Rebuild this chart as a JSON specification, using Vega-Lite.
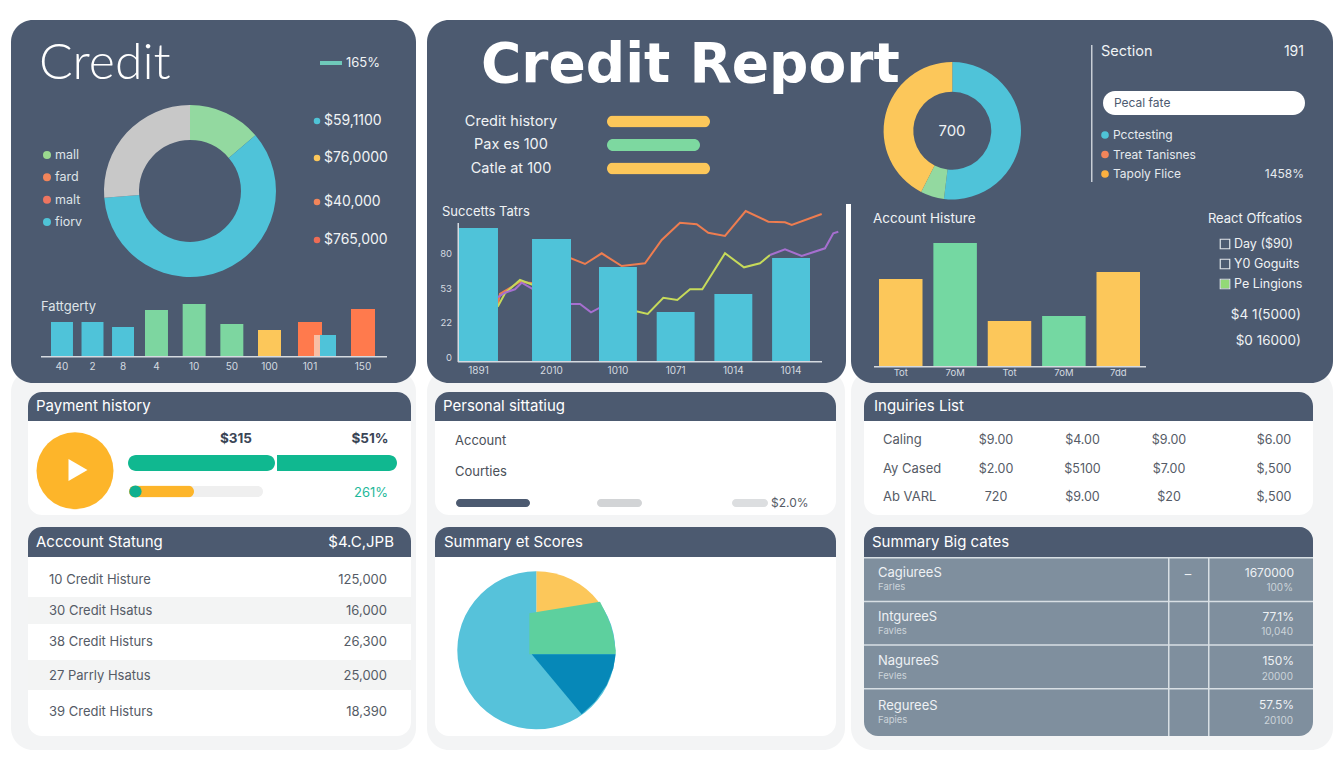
{"$schema":"https://vega.github.io/schema/vega-lite/v6.json","width":1344,"height":768,"padding":0,"autosize":{"type":"none"},"background":"#ffffff",
"config":{"view":{"stroke":null},"text":{"baseline":"middle","align":"left","font":"Inter"},"axis":{"domain":false,"ticks":false,"grid":false,"labelAngle":0,"labelFont":"Inter","labelColor":"#d5dae0","labelOverlap":false}},
"resolve":{"scale":{"x":"independent","y":"independent","color":"independent","theta":"independent"},"axis":{"x":"independent","y":"independent"},"legend":{"color":"independent"}},
"layer":[
{"data":{"values":[{"k":"a"}]},"mark":{"type":"rect","color":"#f3f4f5","cornerRadius":22},"encoding":{"x":{"field":"k","type":"nominal","axis":null,"scale":{"type":"band","padding":0,"range":[11,416]}},"y":{"field":"k","type":"nominal","axis":null,"scale":{"type":"band","padding":0,"range":[370,750]}}}},
{"data":{"values":[{"k":"a"}]},"mark":{"type":"rect","color":"#f3f4f5","cornerRadius":22},"encoding":{"x":{"field":"k","type":"nominal","axis":null,"scale":{"type":"band","padding":0,"range":[427,845]}},"y":{"field":"k","type":"nominal","axis":null,"scale":{"type":"band","padding":0,"range":[370,750]}}}},
{"data":{"values":[{"k":"a"}]},"mark":{"type":"rect","color":"#f3f4f5","cornerRadius":22},"encoding":{"x":{"field":"k","type":"nominal","axis":null,"scale":{"type":"band","padding":0,"range":[851,1333]}},"y":{"field":"k","type":"nominal","axis":null,"scale":{"type":"band","padding":0,"range":[370,750]}}}},
{"data":{"values":[{"k":"a"}]},"mark":{"type":"rect","color":"#4c5a70","cornerRadius":22},"encoding":{"x":{"field":"k","type":"nominal","axis":null,"scale":{"type":"band","padding":0,"range":[11,416]}},"y":{"field":"k","type":"nominal","axis":null,"scale":{"type":"band","padding":0,"range":[20,383]}}}},
{"data":{"values":[{"k":"a"}]},"mark":{"type":"rect","color":"#4c5a70","cornerRadiusTopLeft":22,"cornerRadiusTopRight":22},"encoding":{"x":{"field":"k","type":"nominal","axis":null,"scale":{"type":"band","padding":0,"range":[427,1333]}},"y":{"field":"k","type":"nominal","axis":null,"scale":{"type":"band","padding":0,"range":[20,204]}}}},
{"data":{"values":[{"k":"a"}]},"mark":{"type":"rect","color":"#4c5a70","cornerRadiusBottomLeft":22,"cornerRadiusBottomRight":22},"encoding":{"x":{"field":"k","type":"nominal","axis":null,"scale":{"type":"band","padding":0,"range":[427,846]}},"y":{"field":"k","type":"nominal","axis":null,"scale":{"type":"band","padding":0,"range":[200,383]}}}},
{"data":{"values":[{"k":"a"}]},"mark":{"type":"rect","color":"#4c5a70","cornerRadiusBottomLeft":22,"cornerRadiusBottomRight":22},"encoding":{"x":{"field":"k","type":"nominal","axis":null,"scale":{"type":"band","padding":0,"range":[851,1333]}},"y":{"field":"k","type":"nominal","axis":null,"scale":{"type":"band","padding":0,"range":[200,383]}}}},

{"data":{"values":[{"k":"a"}]},"mark":{"type":"rect","color":"#ffffff","cornerRadius":14},"encoding":{"x":{"field":"k","type":"nominal","axis":null,"scale":{"type":"band","padding":0,"range":[28,411]}},"y":{"field":"k","type":"nominal","axis":null,"scale":{"type":"band","padding":0,"range":[392,515]}}}},
{"data":{"values":[{"k":"a"}]},"mark":{"type":"rect","color":"#ffffff","cornerRadius":14},"encoding":{"x":{"field":"k","type":"nominal","axis":null,"scale":{"type":"band","padding":0,"range":[435,836]}},"y":{"field":"k","type":"nominal","axis":null,"scale":{"type":"band","padding":0,"range":[392,515]}}}},
{"data":{"values":[{"k":"a"}]},"mark":{"type":"rect","color":"#ffffff","cornerRadius":14},"encoding":{"x":{"field":"k","type":"nominal","axis":null,"scale":{"type":"band","padding":0,"range":[864,1313]}},"y":{"field":"k","type":"nominal","axis":null,"scale":{"type":"band","padding":0,"range":[392,515]}}}},
{"data":{"values":[{"k":"a"}]},"mark":{"type":"rect","color":"#ffffff","cornerRadius":14},"encoding":{"x":{"field":"k","type":"nominal","axis":null,"scale":{"type":"band","padding":0,"range":[28,411]}},"y":{"field":"k","type":"nominal","axis":null,"scale":{"type":"band","padding":0,"range":[527,736]}}}},
{"data":{"values":[{"k":"a"}]},"mark":{"type":"rect","color":"#ffffff","cornerRadius":14},"encoding":{"x":{"field":"k","type":"nominal","axis":null,"scale":{"type":"band","padding":0,"range":[435,836]}},"y":{"field":"k","type":"nominal","axis":null,"scale":{"type":"band","padding":0,"range":[527,736]}}}},
{"data":{"values":[{"k":"a"}]},"mark":{"type":"rect","color":"#7f8f9e","cornerRadius":14},"encoding":{"x":{"field":"k","type":"nominal","axis":null,"scale":{"type":"band","padding":0,"range":[864,1313]}},"y":{"field":"k","type":"nominal","axis":null,"scale":{"type":"band","padding":0,"range":[527,736]}}}},

{"data":{"values":[{"k":"a"}]},"mark":{"type":"rect","color":"#f3f4f4"},"encoding":{"x":{"field":"k","type":"nominal","axis":null,"scale":{"type":"band","padding":0,"range":[28,411]}},"y":{"field":"k","type":"nominal","axis":null,"scale":{"type":"band","padding":0,"range":[597,624]}}}},
{"data":{"values":[{"k":"a"}]},"mark":{"type":"rect","color":"#f3f4f4"},"encoding":{"x":{"field":"k","type":"nominal","axis":null,"scale":{"type":"band","padding":0,"range":[28,411]}},"y":{"field":"k","type":"nominal","axis":null,"scale":{"type":"band","padding":0,"range":[660,690]}}}},

{"data":{"values":[{"k":"a"}]},"mark":{"type":"rect","color":"#4c5a70","cornerRadiusTopLeft":14,"cornerRadiusTopRight":14},"encoding":{"x":{"field":"k","type":"nominal","axis":null,"scale":{"type":"band","padding":0,"range":[28,411]}},"y":{"field":"k","type":"nominal","axis":null,"scale":{"type":"band","padding":0,"range":[392,421]}}}},
{"data":{"values":[{"k":"a"}]},"mark":{"type":"rect","color":"#4c5a70","cornerRadiusTopLeft":14,"cornerRadiusTopRight":14},"encoding":{"x":{"field":"k","type":"nominal","axis":null,"scale":{"type":"band","padding":0,"range":[435,836]}},"y":{"field":"k","type":"nominal","axis":null,"scale":{"type":"band","padding":0,"range":[392,421]}}}},
{"data":{"values":[{"k":"a"}]},"mark":{"type":"rect","color":"#4c5a70","cornerRadiusTopLeft":14,"cornerRadiusTopRight":14},"encoding":{"x":{"field":"k","type":"nominal","axis":null,"scale":{"type":"band","padding":0,"range":[864,1313]}},"y":{"field":"k","type":"nominal","axis":null,"scale":{"type":"band","padding":0,"range":[392,421]}}}},
{"data":{"values":[{"k":"a"}]},"mark":{"type":"rect","color":"#4c5a70","cornerRadiusTopLeft":14,"cornerRadiusTopRight":14},"encoding":{"x":{"field":"k","type":"nominal","axis":null,"scale":{"type":"band","padding":0,"range":[28,411]}},"y":{"field":"k","type":"nominal","axis":null,"scale":{"type":"band","padding":0,"range":[527,557]}}}},
{"data":{"values":[{"k":"a"}]},"mark":{"type":"rect","color":"#4c5a70","cornerRadiusTopLeft":14,"cornerRadiusTopRight":14},"encoding":{"x":{"field":"k","type":"nominal","axis":null,"scale":{"type":"band","padding":0,"range":[435,836]}},"y":{"field":"k","type":"nominal","axis":null,"scale":{"type":"band","padding":0,"range":[527,557]}}}},
{"data":{"values":[{"k":"a"}]},"mark":{"type":"rect","color":"#4c5a70","cornerRadiusTopLeft":14,"cornerRadiusTopRight":14},"encoding":{"x":{"field":"k","type":"nominal","axis":null,"scale":{"type":"band","padding":0,"range":[864,1313]}},"y":{"field":"k","type":"nominal","axis":null,"scale":{"type":"band","padding":0,"range":[527,557]}}}},

{"data":{"values":[{"k":"a","r":1},{"k":"a","r":2},{"k":"a","r":3},{"k":"a","r":4}]},"mark":{"type":"rect","color":"#d8dfe4"},"encoding":{"x":{"field":"k","type":"nominal","axis":null,"scale":{"type":"band","padding":0,"range":[864,1313]}},"y":{"field":"r","type":"ordinal","axis":null,"scale":{"type":"band","paddingInner":0.966,"paddingOuter":0,"range":[557,689.5]}}}},
{"data":{"values":[{"k":"a","r":1},{"k":"b","r":1}]},"mark":{"type":"rect","color":"#d8dfe4"},"encoding":{"x":{"field":"k","type":"nominal","axis":null,"scale":{"type":"band","paddingInner":0.9625,"paddingOuter":0,"range":[1168,1209.5]}},"y":{"field":"r","type":"ordinal","axis":null,"scale":{"type":"band","padding":0,"range":[557,736]}}}},

{"data":{"values":[{"k":"a"}]},"mark":{"type":"rect","color":"#6fc9ba"},"encoding":{"x":{"field":"k","type":"nominal","axis":null,"scale":{"type":"band","padding":0,"range":[320,342]}},"y":{"field":"k","type":"nominal","axis":null,"scale":{"type":"band","padding":0,"range":[61,65]}}}},
{"data":{"values":[{"k":"a"}]},"mark":{"type":"rect","color":"#d5dae0"},"encoding":{"x":{"field":"k","type":"nominal","axis":null,"scale":{"type":"band","padding":0,"range":[41,387]}},"y":{"field":"k","type":"nominal","axis":null,"scale":{"type":"band","padding":0,"range":[356,357.5]}}}},
{"data":{"values":[{"k":"a"}]},"mark":{"type":"rect","color":"#d5dae0"},"encoding":{"x":{"field":"k","type":"nominal","axis":null,"scale":{"type":"band","padding":0,"range":[458,822]}},"y":{"field":"k","type":"nominal","axis":null,"scale":{"type":"band","padding":0,"range":[361,362.5]}}}},
{"data":{"values":[{"k":"a"}]},"mark":{"type":"rect","color":"#d5dae0"},"encoding":{"x":{"field":"k","type":"nominal","axis":null,"scale":{"type":"band","padding":0,"range":[457.5,459]}},"y":{"field":"k","type":"nominal","axis":null,"scale":{"type":"band","padding":0,"range":[223,362]}}}},
{"data":{"values":[{"k":"a"}]},"mark":{"type":"rect","color":"#d5dae0"},"encoding":{"x":{"field":"k","type":"nominal","axis":null,"scale":{"type":"band","padding":0,"range":[874,1146]}},"y":{"field":"k","type":"nominal","axis":null,"scale":{"type":"band","padding":0,"range":[366,367.5]}}}},
{"data":{"values":[{"k":"a"}]},"mark":{"type":"rect","color":"#c8ced6"},"encoding":{"x":{"field":"k","type":"nominal","axis":null,"scale":{"type":"band","padding":0,"range":[1091,1092.5]}},"y":{"field":"k","type":"nominal","axis":null,"scale":{"type":"band","padding":0,"range":[45,182]}}}},
{"data":{"values":[{"k":"a"}]},"mark":{"type":"rect","color":"#ffffff","cornerRadius":12},"encoding":{"x":{"field":"k","type":"nominal","axis":null,"scale":{"type":"band","padding":0,"range":[1103,1305]}},"y":{"field":"k","type":"nominal","axis":null,"scale":{"type":"band","padding":0,"range":[91,115]}}}},

{"data":{"values":[{"c":1,"s":"a","v":49.5},{"c":1,"s":"b","v":216},{"c":1,"s":"c","v":94.5}]},"mark":{"type":"arc","radius":86,"radius2":51},"encoding":{"theta":{"field":"v","type":"quantitative","scale":{"domain":[0,360],"range":[0,6.2832]}},"order":{"field":"s"},"color":{"field":"s","type":"nominal","legend":null,"scale":{"domain":["a","b","c"],"range":["#93d9a0","#4fc3d9","#c8c8c8"]}},"x":{"field":"c","type":"ordinal","axis":null,"scale":{"type":"point","padding":0,"range":[190,190]}},"y":{"field":"c","type":"ordinal","axis":null,"scale":{"type":"point","padding":0,"range":[191,191]}}}},
{"data":{"values":[{"c":1,"s":"a","v":187},{"c":1,"s":"b","v":20},{"c":1,"s":"c","v":153}]},"mark":{"type":"arc","radius":68.7,"radius2":39},"encoding":{"theta":{"field":"v","type":"quantitative","scale":{"domain":[0,360],"range":[0,6.2832]}},"order":{"field":"s"},"color":{"field":"s","type":"nominal","legend":null,"scale":{"domain":["a","b","c"],"range":["#4fc3d9","#93d9a0","#fcc75a"]}},"x":{"field":"c","type":"ordinal","axis":null,"scale":{"type":"point","padding":0,"range":[952.3,952.3]}},"y":{"field":"c","type":"ordinal","axis":null,"scale":{"type":"point","padding":0,"range":[130.7,130.7]}}}},

{"data":{"values":[{"c":1,"s":"a","v":52},{"c":1,"s":"b","v":308}]},"mark":{"type":"arc","radius":79,"radius2":0},"encoding":{"theta":{"field":"v","type":"quantitative","scale":{"domain":[0,360],"range":[0,6.2832]}},"order":{"field":"s"},"color":{"field":"s","type":"nominal","legend":null,"scale":{"domain":["a","b"],"range":["#fcc75a","#56c2da"]}},"x":{"field":"c","type":"ordinal","axis":null,"scale":{"type":"point","padding":0,"range":[536.3,536.3]}},"y":{"field":"c","type":"ordinal","axis":null,"scale":{"type":"point","padding":0,"range":[650.3,650.3]}}}},
{"data":{"values":[{"t":4.3,"v":76.7,"b":35.7},{"t":75,"v":88.3,"b":35.7},{"t":80,"v":78.3,"b":35.7},{"t":85,"v":66.7,"b":35.7},{"t":88.3,"v":55,"b":35.7},{"t":90.7,"v":39.7,"b":35.7}]},"mark":{"type":"area","color":"#5dd09e"},"encoding":{"x":{"field":"t","type":"quantitative","axis":null,"scale":{"domain":[0,100],"range":[525,625]}},"y":{"field":"v","type":"quantitative","axis":null,"scale":{"domain":[-50,100],"range":[740,590]}},"y2":{"field":"b"}}},
{"data":{"values":[{"t":6.7,"v":35.7,"b":35.7},{"t":56.7,"v":35.7,"b":-24.3},{"t":70,"v":35.7,"b":-11.7},{"t":81.7,"v":35.7,"b":5},{"t":88.3,"v":35.7,"b":21.7},{"t":90.7,"v":35.7,"b":35.7}]},"mark":{"type":"area","color":"#0688b8"},"encoding":{"x":{"field":"t","type":"quantitative","axis":null,"scale":{"domain":[0,100],"range":[525,625]}},"y":{"field":"v","type":"quantitative","axis":null,"scale":{"domain":[-50,100],"range":[740,590]}},"y2":{"field":"b"}}},

{"data":{"values":[{"k":"40","v":34,"s":"a"},{"k":"2","v":34,"s":"a"},{"k":"8","v":29,"s":"a"}]},"mark":{"type":"bar","color":"#4fc3d9"},"encoding":{"x":{"field":"k","type":"nominal","sort":null,"scale":{"type":"band","paddingInner":0.28,"paddingOuter":0,"range":[51,134]},"axis":{"orient":"bottom","offset":-411.5,"title":null,"labelFontSize":10,"labelPadding":5,"zindex":1}},"y":{"field":"v","type":"quantitative","axis":null,"scale":{"domain":[0,60],"range":[356,296]}}}},
{"data":{"values":[{"k":"4","v":46},{"k":"10","v":52},{"k":"50","v":32},{"k":"100","v":26}]},"mark":{"type":"bar"},"encoding":{"x":{"field":"k","type":"nominal","sort":null,"scale":{"type":"band","paddingInner":0.39,"paddingOuter":0,"range":[145,281]},"axis":{"orient":"bottom","offset":-411.5,"title":null,"labelFontSize":10,"labelPadding":5,"zindex":1}},"y":{"field":"v","type":"quantitative","axis":null,"scale":{"domain":[0,60],"range":[356,296]}},"color":{"field":"k","type":"nominal","legend":null,"scale":{"domain":["4","10","50","100"],"range":["#7dd6a0","#7dd6a0","#7dd6a0","#fcc75a"]}}}},
{"data":{"values":[{"k":"101","v":34},{"k":"150","v":47}]},"mark":{"type":"bar","color":"#ff7a4d"},"encoding":{"x":{"field":"k","type":"nominal","sort":null,"scale":{"type":"band","paddingInner":0.547,"paddingOuter":0,"range":[298,375]},"axis":{"orient":"bottom","offset":-411.5,"title":null,"labelFontSize":10,"labelPadding":5,"zindex":1}},"y":{"field":"v","type":"quantitative","axis":null,"scale":{"domain":[0,60],"range":[356,296]}}}},
{"data":{"values":[{"k":"b","v":21}]},"mark":{"type":"bar","color":"#4fc3d9"},"encoding":{"x":{"field":"k","type":"nominal","axis":null,"scale":{"type":"band","padding":0,"range":[314,336]}},"y":{"field":"v","type":"quantitative","axis":null,"scale":{"domain":[0,60],"range":[356,296]}}}},
{"data":{"values":[{"k":"o","v":21}]},"mark":{"type":"bar","color":"#f8bfa5"},"encoding":{"x":{"field":"k","type":"nominal","axis":null,"scale":{"type":"band","padding":0,"range":[314,320]}},"y":{"field":"v","type":"quantitative","axis":null,"scale":{"domain":[0,60],"range":[356,296]}}}},

{"data":{"values":[
{"s":"o","t":39.7,"v":56},{"s":"o","t":42,"v":67},{"s":"o","t":62,"v":79.3},{"s":"o","t":75.3,"v":77.7},{"s":"o","t":113,"v":102.7},{"s":"o","t":127,"v":97},{"s":"o","t":143.7,"v":107.7},{"s":"o","t":163.7,"v":95},{"s":"o","t":187,"v":97.7},{"s":"o","t":203.7,"v":121},{"s":"o","t":222,"v":138.3},{"s":"o","t":238.7,"v":136.7},{"s":"o","t":250.3,"v":128.3},{"s":"o","t":267,"v":125},{"s":"o","t":287.7,"v":150},{"s":"o","t":310.3,"v":139.3},{"s":"o","t":327,"v":138.7},{"s":"o","t":333.7,"v":136},{"s":"o","t":363.7,"v":147},
{"s":"y1","t":39.7,"v":54.3},{"s":"y1","t":47,"v":67.7},{"s":"y1","t":62,"v":81},{"s":"y1","t":75.3,"v":76},{"s":"y1","t":80.3,"v":74},
{"s":"y2","t":175.3,"v":50.3},{"s":"y2","t":180.3,"v":49.3},{"s":"y2","t":189.7,"v":47},{"s":"y2","t":205.3,"v":63.3},{"s":"y2","t":219.3,"v":61},{"s":"y2","t":232,"v":71.7},{"s":"y2","t":244.3,"v":71.7},{"s":"y2","t":267,"v":107.7},{"s":"y2","t":286,"v":93.7},{"s":"y2","t":302,"v":97.7},{"s":"y2","t":312,"v":106},
{"s":"p1","t":39.7,"v":63.7},{"s":"p1","t":47,"v":68.3},{"s":"p1","t":57,"v":71.7},{"s":"p1","t":63.7,"v":78.3},{"s":"p1","t":75.3,"v":71.7},{"s":"p1","t":113,"v":57},{"s":"p1","t":122,"v":57},{"s":"p1","t":133,"v":48.7},{"s":"p1","t":143.7,"v":54.3},{"s":"p1","t":150,"v":54},
{"s":"p2","t":312,"v":106},{"s":"p2","t":327,"v":111.7},{"s":"p2","t":343.7,"v":105},{"s":"p2","t":367,"v":112.7},{"s":"p2","t":375.3,"v":127.7},{"s":"p2","t":380.3,"v":129.3}
]},"mark":{"type":"line","strokeWidth":2},"encoding":{"x":{"field":"t","type":"quantitative","axis":null,"scale":{"domain":[0,400],"range":[458,858]}},"y":{"field":"v","type":"quantitative","axis":null,"scale":{"domain":[0,160],"range":[361,201]}},"color":{"field":"s","type":"nominal","legend":null,"scale":{"domain":["o","y1","y2","p1","p2"],"range":["#ee7d50","#c6da5a","#c6da5a","#a66fd0","#a66fd0"]}}}},

{"data":{"values":[{"k":"1891","v":133},{"k":"2010","v":122}]},"mark":{"type":"bar","color":"#4fc3d9"},"encoding":{"x":{"field":"k","type":"nominal","sort":null,"scale":{"type":"band","paddingInner":0.466,"paddingOuter":0,"range":[459,571]},"axis":{"orient":"bottom","offset":-406.5,"title":null,"labelFontSize":10,"labelPadding":4,"zindex":1}},"y":{"field":"v","type":"quantitative","axis":null,"scale":{"domain":[0,160],"range":[361,201]}}}},
{"data":{"values":[{"k":"1010","v":94},{"k":"1071","v":49},{"k":"1014","v":67},{"k":"1014 ","v":103}]},"mark":{"type":"bar","color":"#4fc3d9"},"encoding":{"x":{"field":"k","type":"nominal","sort":null,"scale":{"type":"band","paddingInner":0.343,"paddingOuter":0,"range":[599,810]},"axis":{"orient":"bottom","offset":-406.5,"title":null,"labelFontSize":10,"labelPadding":4,"zindex":1}},"y":{"field":"v","type":"quantitative","axis":null,"scale":{"domain":[0,160],"range":[361,201]}}}},
{"data":{"values":[{"k":"Tot","v":87},{"k":"7oM","v":123},{"k":"Tot ","v":45},{"k":"7oM ","v":50},{"k":"7dd","v":94}]},"mark":{"type":"bar"},"encoding":{"x":{"field":"k","type":"nominal","sort":null,"scale":{"type":"band","paddingInner":0.2,"paddingOuter":0,"range":[879,1140]},"axis":{"orient":"bottom","offset":-401.5,"title":null,"labelFontSize":9.5,"labelPadding":1,"zindex":1}},"y":{"field":"v","type":"quantitative","axis":null,"scale":{"domain":[0,130],"range":[366,236]}},"color":{"field":"k","type":"nominal","legend":null,"scale":{"domain":["Tot","7oM","Tot ","7oM ","7dd"],"range":["#fcc75a","#74d8a2","#fcc75a","#74d8a2","#fcc75a"]}}}},

{"data":{"values":[{"r":"a","v":103},{"r":"b","v":93},{"r":"c","v":103}]},"mark":{"type":"bar","size":12,"cornerRadius":6},"encoding":{"x":{"field":"v","type":"quantitative","axis":null,"scale":{"domain":[0,103],"range":[607,710]}},"y":{"field":"r","type":"nominal","axis":null,"scale":{"type":"point","padding":0,"range":[121.5,168.5]}},"color":{"field":"r","type":"nominal","legend":null,"scale":{"domain":["a","b","c"],"range":["#fcc75a","#7dd8a0","#fcc75a"]}}}},

{"data":{"values":[{"r":"a","v":147}]},"mark":{"type":"bar","size":16,"cornerRadius":8,"color":"#10b890"},"encoding":{"x":{"field":"v","type":"quantitative","axis":null,"scale":{"domain":[0,147],"range":[128,275]}},"y":{"field":"r","type":"nominal","axis":null,"scale":{"type":"point","padding":0,"range":[463,463]}}}},
{"data":{"values":[{"r":"a","v":120}]},"mark":{"type":"bar","size":16,"cornerRadiusEnd":8,"color":"#10b890"},"encoding":{"x":{"field":"v","type":"quantitative","axis":null,"scale":{"domain":[0,120],"range":[277,397]}},"y":{"field":"r","type":"nominal","axis":null,"scale":{"type":"point","padding":0,"range":[463,463]}}}},
{"data":{"values":[{"r":"a","v":134}]},"mark":{"type":"bar","size":11,"cornerRadius":5.5,"color":"#efefef"},"encoding":{"x":{"field":"v","type":"quantitative","axis":null,"scale":{"domain":[0,134],"range":[129,263]}},"y":{"field":"r","type":"nominal","axis":null,"scale":{"type":"point","padding":0,"range":[491.5,491.5]}}}},
{"data":{"values":[{"r":"a","v":65}]},"mark":{"type":"bar","size":12,"cornerRadius":6,"color":"#fdb52a"},"encoding":{"x":{"field":"v","type":"quantitative","axis":null,"scale":{"domain":[0,134],"range":[129,263]}},"y":{"field":"r","type":"nominal","axis":null,"scale":{"type":"point","padding":0,"range":[491.5,491.5]}}}},
{"data":{"values":[{"r":"a","v":74}]},"mark":{"type":"bar","size":8,"cornerRadius":4,"color":"#4c5a70"},"encoding":{"x":{"field":"v","type":"quantitative","axis":null,"scale":{"domain":[0,74],"range":[456,530]}},"y":{"field":"r","type":"nominal","axis":null,"scale":{"type":"point","padding":0,"range":[503,503]}}}},
{"data":{"values":[{"r":"a","v":45}]},"mark":{"type":"bar","size":8,"cornerRadius":4,"color":"#d2d4d6"},"encoding":{"x":{"field":"v","type":"quantitative","axis":null,"scale":{"domain":[0,45],"range":[597,642]}},"y":{"field":"r","type":"nominal","axis":null,"scale":{"type":"point","padding":0,"range":[503,503]}}}},
{"data":{"values":[{"r":"a","v":36}]},"mark":{"type":"bar","size":8,"cornerRadius":4,"color":"#dcdee0"},"encoding":{"x":{"field":"v","type":"quantitative","axis":null,"scale":{"domain":[0,36],"range":[732,768]}},"y":{"field":"r","type":"nominal","axis":null,"scale":{"type":"point","padding":0,"range":[503,503]}}}},

{"data":{"values":[{"c":1,"r":1}]},"mark":{"type":"point","filled":true,"opacity":1,"size":5929,"color":"#fdb52a"},"encoding":{"x":{"field":"c","type":"ordinal","axis":null,"scale":{"type":"point","padding":0,"range":[75,75]}},"y":{"field":"r","type":"ordinal","axis":null,"scale":{"type":"point","padding":0,"range":[470.7,470.7]}}}},
{"data":{"values":[{"c":1,"r":1}]},"mark":{"type":"point","filled":true,"opacity":1,"shape":"triangle-right","size":480,"color":"#ffffff"},"encoding":{"x":{"field":"c","type":"ordinal","axis":null,"scale":{"type":"point","padding":0,"range":[78,78]}},"y":{"field":"r","type":"ordinal","axis":null,"scale":{"type":"point","padding":0,"range":[470,470]}}}},
{"data":{"values":[{"c":1,"r":1}]},"mark":{"type":"point","filled":true,"opacity":1,"size":150,"color":"#10b08f"},"encoding":{"x":{"field":"c","type":"ordinal","axis":null,"scale":{"type":"point","padding":0,"range":[135.5,135.5]}},"y":{"field":"r","type":"ordinal","axis":null,"scale":{"type":"point","padding":0,"range":[491.5,491.5]}}}},

{"data":{"values":[{"c":1,"r":1},{"c":1,"r":2},{"c":1,"r":3},{"c":1,"r":4}]},"mark":{"type":"point","filled":true,"opacity":1,"size":64},"encoding":{"x":{"field":"c","type":"ordinal","axis":null,"scale":{"type":"point","padding":0,"range":[47,47]}},"y":{"field":"r","type":"ordinal","axis":null,"scale":{"type":"point","padding":0,"range":[155,222]}},"color":{"field":"r","type":"nominal","legend":null,"scale":{"domain":[1,2,3,4],"range":["#9bd98f","#f2855a","#ee7560","#4fc3d6"]}}}},
{"data":{"values":[{"c":1,"r":1},{"c":1,"r":2}]},"mark":{"type":"point","filled":true,"opacity":1,"size":42},"encoding":{"x":{"field":"c","type":"ordinal","axis":null,"scale":{"type":"point","padding":0,"range":[317,317]}},"y":{"field":"r","type":"ordinal","axis":null,"scale":{"type":"point","padding":0,"range":[121,158]}},"color":{"field":"r","type":"nominal","legend":null,"scale":{"domain":[1,2],"range":["#4fc3d6","#fcc75a"]}}}},
{"data":{"values":[{"c":1,"r":1},{"c":1,"r":2}]},"mark":{"type":"point","filled":true,"opacity":1,"size":42},"encoding":{"x":{"field":"c","type":"ordinal","axis":null,"scale":{"type":"point","padding":0,"range":[317,317]}},"y":{"field":"r","type":"ordinal","axis":null,"scale":{"type":"point","padding":0,"range":[202,240]}},"color":{"field":"r","type":"nominal","legend":null,"scale":{"domain":[1,2],"range":["#f2855a","#ee6c55"]}}}},
{"data":{"values":[{"c":1,"r":1},{"c":1,"r":2},{"c":1,"r":3}]},"mark":{"type":"point","filled":true,"opacity":1,"size":58},"encoding":{"x":{"field":"c","type":"ordinal","axis":null,"scale":{"type":"point","padding":0,"range":[1105,1105]}},"y":{"field":"r","type":"ordinal","axis":null,"scale":{"type":"point","padding":0,"range":[135,174]}},"color":{"field":"r","type":"nominal","legend":null,"scale":{"domain":[1,2,3],"range":["#4fc3d6","#f2855a","#fbb040"]}}}},
{"data":{"values":[{"c":1,"r":1},{"c":1,"r":2},{"c":1,"r":3}]},"mark":{"type":"point","filled":false,"opacity":1,"shape":"square","size":90,"strokeWidth":1.2,"color":"#dfe4e8"},"encoding":{"x":{"field":"c","type":"ordinal","axis":null,"scale":{"type":"point","padding":0,"range":[1225,1225]}},"y":{"field":"r","type":"ordinal","axis":null,"scale":{"type":"point","padding":0,"range":[244,284]}}}},
{"data":{"values":[{"c":1,"r":1}]},"mark":{"type":"point","filled":true,"opacity":1,"shape":"square","size":70,"color":"#93d977"},"encoding":{"x":{"field":"c","type":"ordinal","axis":null,"scale":{"type":"point","padding":0,"range":[1225,1225]}},"y":{"field":"r","type":"ordinal","axis":null,"scale":{"type":"point","padding":0,"range":[284,284]}}}},

{"data":{"values":[{"c":1,"r":1,"t":"Credit"}]},"mark":{"type":"text","font":"Lato","fontWeight":300,"fontSize":50,"color":"#ffffff"},"encoding":{"text":{"field":"t"},"x":{"field":"c","type":"ordinal","axis":null,"scale":{"type":"point","padding":0,"range":[39,39]}},"y":{"field":"r","type":"ordinal","axis":null,"scale":{"type":"point","padding":0,"range":[64,64]}}}},
{"data":{"values":[{"c":1,"r":1,"t":"Credit Report"}]},"mark":{"type":"text","font":"DejaVu Sans","fontWeight":"bold","fontSize":55,"color":"#ffffff"},"encoding":{"text":{"field":"t"},"x":{"field":"c","type":"ordinal","axis":null,"scale":{"type":"point","padding":0,"range":[481,481]}},"y":{"field":"r","type":"ordinal","axis":null,"scale":{"type":"point","padding":0,"range":[65,65]}}}},
{"data":{"values":[{"c":1,"r":1,"t":"165%"}]},"mark":{"type":"text","fontSize":13,"color":"#f0f3f5"},"encoding":{"text":{"field":"t"},"x":{"field":"c","type":"ordinal","axis":null,"scale":{"type":"point","padding":0,"range":[346,346]}},"y":{"field":"r","type":"ordinal","axis":null,"scale":{"type":"point","padding":0,"range":[63,63]}}}},
{"data":{"values":[{"c":1,"r":1,"t":"mall"},{"c":1,"r":2,"t":"fard"},{"c":1,"r":3,"t":"malt"},{"c":1,"r":4,"t":"fiorv"}]},"mark":{"type":"text","fontSize":12.5,"color":"#dfe4e8"},"encoding":{"text":{"field":"t"},"x":{"field":"c","type":"ordinal","axis":null,"scale":{"type":"point","padding":0,"range":[55,55]}},"y":{"field":"r","type":"ordinal","axis":null,"scale":{"type":"point","padding":0,"range":[155,222]}}}},
{"data":{"values":[{"c":1,"r":1,"t":"$59,1100"},{"c":1,"r":2,"t":"$76,0000"}]},"mark":{"type":"text","fontSize":14,"color":"#f0f3f5"},"encoding":{"text":{"field":"t"},"x":{"field":"c","type":"ordinal","axis":null,"scale":{"type":"point","padding":0,"range":[324,324]}},"y":{"field":"r","type":"ordinal","axis":null,"scale":{"type":"point","padding":0,"range":[121,158]}}}},
{"data":{"values":[{"c":1,"r":1,"t":"$40,000"},{"c":1,"r":2,"t":"$765,000"}]},"mark":{"type":"text","fontSize":14,"color":"#f0f3f5"},"encoding":{"text":{"field":"t"},"x":{"field":"c","type":"ordinal","axis":null,"scale":{"type":"point","padding":0,"range":[324,324]}},"y":{"field":"r","type":"ordinal","axis":null,"scale":{"type":"point","padding":0,"range":[202,240]}}}},
{"data":{"values":[{"c":1,"r":1,"t":"Fattgerty"}]},"mark":{"type":"text","fontSize":13,"color":"#dfe4e8"},"encoding":{"text":{"field":"t"},"x":{"field":"c","type":"ordinal","axis":null,"scale":{"type":"point","padding":0,"range":[41,41]}},"y":{"field":"r","type":"ordinal","axis":null,"scale":{"type":"point","padding":0,"range":[307,307]}}}},

{"data":{"values":[{"c":1,"r":1,"t":"Credit history"},{"c":1,"r":2,"t":"Pax es 100"},{"c":1,"r":3,"t":"Catle at 100"}]},"mark":{"type":"text","fontSize":14.5,"align":"center","color":"#f0f3f5"},"encoding":{"text":{"field":"t"},"x":{"field":"c","type":"ordinal","axis":null,"scale":{"type":"point","padding":0,"range":[511,511]}},"y":{"field":"r","type":"ordinal","axis":null,"scale":{"type":"point","padding":0,"range":[121.5,168.5]}}}},
{"data":{"values":[{"c":1,"r":1,"t":"700"}]},"mark":{"type":"text","fontSize":15,"align":"center","color":"#f0f3f5"},"encoding":{"text":{"field":"t"},"x":{"field":"c","type":"ordinal","axis":null,"scale":{"type":"point","padding":0,"range":[952,952]}},"y":{"field":"r","type":"ordinal","axis":null,"scale":{"type":"point","padding":0,"range":[131,131]}}}},
{"data":{"values":[{"c":1,"r":1,"t":"Section"}]},"mark":{"type":"text","fontSize":14.5,"color":"#f0f3f5"},"encoding":{"text":{"field":"t"},"x":{"field":"c","type":"ordinal","axis":null,"scale":{"type":"point","padding":0,"range":[1101,1101]}},"y":{"field":"r","type":"ordinal","axis":null,"scale":{"type":"point","padding":0,"range":[52,52]}}}},
{"data":{"values":[{"c":1,"r":1,"t":"191"}]},"mark":{"type":"text","fontSize":14,"align":"right","color":"#f0f3f5"},"encoding":{"text":{"field":"t"},"x":{"field":"c","type":"ordinal","axis":null,"scale":{"type":"point","padding":0,"range":[1304,1304]}},"y":{"field":"r","type":"ordinal","axis":null,"scale":{"type":"point","padding":0,"range":[52,52]}}}},
{"data":{"values":[{"c":1,"r":1,"t":"Pecal fate"}]},"mark":{"type":"text","fontSize":12,"color":"#4c5a70"},"encoding":{"text":{"field":"t"},"x":{"field":"c","type":"ordinal","axis":null,"scale":{"type":"point","padding":0,"range":[1114,1114]}},"y":{"field":"r","type":"ordinal","axis":null,"scale":{"type":"point","padding":0,"range":[103,103]}}}},
{"data":{"values":[{"c":1,"r":1,"t":"Pcctesting"},{"c":1,"r":2,"t":"Treat Tanisnes"},{"c":1,"r":3,"t":"Tapoly Flice"}]},"mark":{"type":"text","fontSize":12,"color":"#e6eaee"},"encoding":{"text":{"field":"t"},"x":{"field":"c","type":"ordinal","axis":null,"scale":{"type":"point","padding":0,"range":[1113,1113]}},"y":{"field":"r","type":"ordinal","axis":null,"scale":{"type":"point","padding":0,"range":[135,174]}}}},
{"data":{"values":[{"c":1,"r":1,"t":"1458%"}]},"mark":{"type":"text","fontSize":12,"align":"right","color":"#e6eaee"},"encoding":{"text":{"field":"t"},"x":{"field":"c","type":"ordinal","axis":null,"scale":{"type":"point","padding":0,"range":[1304,1304]}},"y":{"field":"r","type":"ordinal","axis":null,"scale":{"type":"point","padding":0,"range":[174,174]}}}},

{"data":{"values":[{"c":1,"r":1,"t":"Succetts Tatrs"}]},"mark":{"type":"text","fontSize":13,"color":"#f0f3f5"},"encoding":{"text":{"field":"t"},"x":{"field":"c","type":"ordinal","axis":null,"scale":{"type":"point","padding":0,"range":[442,442]}},"y":{"field":"r","type":"ordinal","axis":null,"scale":{"type":"point","padding":0,"range":[212,212]}}}},
{"data":{"values":[{"c":1,"r":1,"t":"80"},{"c":1,"r":2,"t":"53"},{"c":1,"r":3,"t":"22"},{"c":1,"r":4,"t":"0"}]},"mark":{"type":"text","fontSize":9.5,"align":"right","color":"#d5dae0"},"encoding":{"text":{"field":"t"},"x":{"field":"c","type":"ordinal","axis":null,"scale":{"type":"point","padding":0,"range":[452,452]}},"y":{"field":"r","type":"ordinal","axis":null,"scale":{"type":"point","padding":0,"range":[254,358]}}}},
{"data":{"values":[{"c":1,"r":1,"t":"Account Histure"}]},"mark":{"type":"text","fontSize":13.5,"color":"#f0f3f5"},"encoding":{"text":{"field":"t"},"x":{"field":"c","type":"ordinal","axis":null,"scale":{"type":"point","padding":0,"range":[873,873]}},"y":{"field":"r","type":"ordinal","axis":null,"scale":{"type":"point","padding":0,"range":[219,219]}}}},
{"data":{"values":[{"c":1,"r":1,"t":"React Offcatios"}]},"mark":{"type":"text","fontSize":13,"align":"right","color":"#f0f3f5"},"encoding":{"text":{"field":"t"},"x":{"field":"c","type":"ordinal","axis":null,"scale":{"type":"point","padding":0,"range":[1302,1302]}},"y":{"field":"r","type":"ordinal","axis":null,"scale":{"type":"point","padding":0,"range":[219,219]}}}},
{"data":{"values":[{"c":1,"r":1,"t":"Day ($90)"},{"c":1,"r":2,"t":"Y0 Goguits"},{"c":1,"r":3,"t":"Pe Lingions"}]},"mark":{"type":"text","fontSize":12.5,"color":"#f0f3f5"},"encoding":{"text":{"field":"t"},"x":{"field":"c","type":"ordinal","axis":null,"scale":{"type":"point","padding":0,"range":[1234,1234]}},"y":{"field":"r","type":"ordinal","axis":null,"scale":{"type":"point","padding":0,"range":[244,284]}}}},
{"data":{"values":[{"c":1,"r":1,"t":"$4 1(5000)"},{"c":1,"r":2,"t":"$0  16000)"}]},"mark":{"type":"text","fontSize":13.5,"align":"right","color":"#f0f3f5"},"encoding":{"text":{"field":"t"},"x":{"field":"c","type":"ordinal","axis":null,"scale":{"type":"point","padding":0,"range":[1301,1301]}},"y":{"field":"r","type":"ordinal","axis":null,"scale":{"type":"point","padding":0,"range":[315,341]}}}},

{"data":{"values":[{"c":1,"r":1,"t":"Payment history"},{"c":2,"r":1,"t":"Inguiries List"}]},"mark":{"type":"text","fontSize":15,"color":"#ffffff"},"encoding":{"text":{"field":"t"},"x":{"field":"c","type":"ordinal","axis":null,"scale":{"type":"point","padding":0,"range":[36,874]}},"y":{"field":"r","type":"ordinal","axis":null,"scale":{"type":"point","padding":0,"range":[406,406]}}}},
{"data":{"values":[{"c":1,"r":1,"t":"Personal sittatiug"}]},"mark":{"type":"text","fontSize":15,"color":"#ffffff"},"encoding":{"text":{"field":"t"},"x":{"field":"c","type":"ordinal","axis":null,"scale":{"type":"point","padding":0,"range":[443,443]}},"y":{"field":"r","type":"ordinal","axis":null,"scale":{"type":"point","padding":0,"range":[406,406]}}}},
{"data":{"values":[{"c":1,"r":1,"t":"Acccount Statung"},{"c":2,"r":1,"t":"Summary Big cates"}]},"mark":{"type":"text","fontSize":15,"color":"#ffffff"},"encoding":{"text":{"field":"t"},"x":{"field":"c","type":"ordinal","axis":null,"scale":{"type":"point","padding":0,"range":[36,872]}},"y":{"field":"r","type":"ordinal","axis":null,"scale":{"type":"point","padding":0,"range":[542,542]}}}},
{"data":{"values":[{"c":1,"r":1,"t":"Summary et Scores"}]},"mark":{"type":"text","fontSize":15,"color":"#ffffff"},"encoding":{"text":{"field":"t"},"x":{"field":"c","type":"ordinal","axis":null,"scale":{"type":"point","padding":0,"range":[444,444]}},"y":{"field":"r","type":"ordinal","axis":null,"scale":{"type":"point","padding":0,"range":[542,542]}}}},
{"data":{"values":[{"c":1,"r":1,"t":"$4.C,JPB"}]},"mark":{"type":"text","fontSize":15,"align":"right","color":"#ffffff"},"encoding":{"text":{"field":"t"},"x":{"field":"c","type":"ordinal","axis":null,"scale":{"type":"point","padding":0,"range":[394,394]}},"y":{"field":"r","type":"ordinal","axis":null,"scale":{"type":"point","padding":0,"range":[542,542]}}}},

{"data":{"values":[{"c":1,"r":1,"t":"$315"},{"c":2,"r":1,"t":"$51%"}]},"mark":{"type":"text","fontSize":13.5,"fontWeight":"bold","align":"center","color":"#3a4556"},"encoding":{"text":{"field":"t"},"x":{"field":"c","type":"ordinal","axis":null,"scale":{"type":"point","padding":0,"range":[236,370]}},"y":{"field":"r","type":"ordinal","axis":null,"scale":{"type":"point","padding":0,"range":[439,439]}}}},
{"data":{"values":[{"c":1,"r":1,"t":"261%"}]},"mark":{"type":"text","fontSize":13,"align":"right","color":"#1db89a"},"encoding":{"text":{"field":"t"},"x":{"field":"c","type":"ordinal","axis":null,"scale":{"type":"point","padding":0,"range":[388,388]}},"y":{"field":"r","type":"ordinal","axis":null,"scale":{"type":"point","padding":0,"range":[493,493]}}}},
{"data":{"values":[{"c":1,"r":1,"t":"Account"},{"c":1,"r":2,"t":"Courties"}]},"mark":{"type":"text","fontSize":13,"color":"#4a4f58"},"encoding":{"text":{"field":"t"},"x":{"field":"c","type":"ordinal","axis":null,"scale":{"type":"point","padding":0,"range":[455,455]}},"y":{"field":"r","type":"ordinal","axis":null,"scale":{"type":"point","padding":0,"range":[441,472]}}}},
{"data":{"values":[{"c":1,"r":1,"t":"$2.0%"}]},"mark":{"type":"text","fontSize":12,"color":"#555b66"},"encoding":{"text":{"field":"t"},"x":{"field":"c","type":"ordinal","axis":null,"scale":{"type":"point","padding":0,"range":[771,771]}},"y":{"field":"r","type":"ordinal","axis":null,"scale":{"type":"point","padding":0,"range":[503,503]}}}},

{"data":{"values":[{"c":1,"r":1,"t":"10 Credit Histure"},{"c":1,"r":2,"t":"30 Credit Hsatus"},{"c":1,"r":3,"t":"38 Credit Histurs"}]},"mark":{"type":"text","fontSize":13,"color":"#555b66"},"encoding":{"text":{"field":"t"},"x":{"field":"c","type":"ordinal","axis":null,"scale":{"type":"point","padding":0,"range":[49,49]}},"y":{"field":"r","type":"ordinal","axis":null,"scale":{"type":"point","padding":0,"range":[580,642]}}}},
{"data":{"values":[{"c":1,"r":1,"t":"27 Parrly Hsatus"},{"c":1,"r":2,"t":"39 Credit Histurs"}]},"mark":{"type":"text","fontSize":13,"color":"#555b66"},"encoding":{"text":{"field":"t"},"x":{"field":"c","type":"ordinal","axis":null,"scale":{"type":"point","padding":0,"range":[49,49]}},"y":{"field":"r","type":"ordinal","axis":null,"scale":{"type":"point","padding":0,"range":[676,712]}}}},
{"data":{"values":[{"c":1,"r":1,"t":"125,000"},{"c":1,"r":2,"t":"16,000"},{"c":1,"r":3,"t":"26,300"}]},"mark":{"type":"text","fontSize":13,"align":"right","color":"#555b66"},"encoding":{"text":{"field":"t"},"x":{"field":"c","type":"ordinal","axis":null,"scale":{"type":"point","padding":0,"range":[387,387]}},"y":{"field":"r","type":"ordinal","axis":null,"scale":{"type":"point","padding":0,"range":[580,642]}}}},
{"data":{"values":[{"c":1,"r":1,"t":"25,000"},{"c":1,"r":2,"t":"18,390"}]},"mark":{"type":"text","fontSize":13,"align":"right","color":"#555b66"},"encoding":{"text":{"field":"t"},"x":{"field":"c","type":"ordinal","axis":null,"scale":{"type":"point","padding":0,"range":[387,387]}},"y":{"field":"r","type":"ordinal","axis":null,"scale":{"type":"point","padding":0,"range":[676,712]}}}},

{"data":{"values":[{"c":1,"r":1,"t":"Caling"},{"c":1,"r":2,"t":"Ay Cased"},{"c":1,"r":3,"t":"Ab VARL"}]},"mark":{"type":"text","fontSize":13,"color":"#555b66"},"encoding":{"text":{"field":"t"},"x":{"field":"c","type":"ordinal","axis":null,"scale":{"type":"point","padding":0,"range":[883,883]}},"y":{"field":"r","type":"ordinal","axis":null,"scale":{"type":"point","padding":0,"range":[440,497]}}}},
{"data":{"values":[{"c":1,"r":1,"t":"$9.00"},{"c":2,"r":1,"t":"$4.00"},{"c":3,"r":1,"t":"$9.00"},{"c":1,"r":2,"t":"$2.00"},{"c":2,"r":2,"t":"$5100"},{"c":3,"r":2,"t":"$7.00"},{"c":1,"r":3,"t":"720"},{"c":2,"r":3,"t":"$9.00"},{"c":3,"r":3,"t":"$20"}]},"mark":{"type":"text","fontSize":12.5,"align":"center","color":"#555b66"},"encoding":{"text":{"field":"t"},"x":{"field":"c","type":"ordinal","axis":null,"scale":{"type":"point","padding":0,"range":[996,1169]}},"y":{"field":"r","type":"ordinal","axis":null,"scale":{"type":"point","padding":0,"range":[440,497]}}}},
{"data":{"values":[{"c":1,"r":1,"t":"$6.00"},{"c":1,"r":2,"t":"$,500"},{"c":1,"r":3,"t":"$,500"}]},"mark":{"type":"text","fontSize":12.5,"align":"center","color":"#555b66"},"encoding":{"text":{"field":"t"},"x":{"field":"c","type":"ordinal","axis":null,"scale":{"type":"point","padding":0,"range":[1274,1274]}},"y":{"field":"r","type":"ordinal","axis":null,"scale":{"type":"point","padding":0,"range":[440,497]}}}},

{"data":{"values":[{"c":1,"r":1,"t":"CagiureeS"},{"c":1,"r":2,"t":"IntgureeS"},{"c":1,"r":3,"t":"NagureeS"},{"c":1,"r":4,"t":"RegureeS"}]},"mark":{"type":"text","fontSize":13,"color":"#eef1f4"},"encoding":{"text":{"field":"t"},"x":{"field":"c","type":"ordinal","axis":null,"scale":{"type":"point","padding":0,"range":[878,878]}},"y":{"field":"r","type":"ordinal","axis":null,"scale":{"type":"point","padding":0,"range":[573,705.5]}}}},
{"data":{"values":[{"c":1,"r":1,"t":"Farles"},{"c":1,"r":2,"t":"Favles"},{"c":1,"r":3,"t":"Fevles"},{"c":1,"r":4,"t":"Fapies"}]},"mark":{"type":"text","fontSize":9.5,"color":"#ccd4da"},"encoding":{"text":{"field":"t"},"x":{"field":"c","type":"ordinal","axis":null,"scale":{"type":"point","padding":0,"range":[878,878]}},"y":{"field":"r","type":"ordinal","axis":null,"scale":{"type":"point","padding":0,"range":[587,720]}}}},
{"data":{"values":[{"c":1,"r":1,"t":"1670000"},{"c":1,"r":2,"t":"77.1%"},{"c":1,"r":3,"t":"150%"},{"c":1,"r":4,"t":"57.5%"}]},"mark":{"type":"text","fontSize":12,"align":"right","color":"#eef1f4"},"encoding":{"text":{"field":"t"},"x":{"field":"c","type":"ordinal","axis":null,"scale":{"type":"point","padding":0,"range":[1294,1294]}},"y":{"field":"r","type":"ordinal","axis":null,"scale":{"type":"point","padding":0,"range":[573,705]}}}},
{"data":{"values":[{"c":1,"r":1,"t":"100%"},{"c":1,"r":2,"t":"10,040"},{"c":1,"r":3,"t":"20000"},{"c":1,"r":4,"t":"20100"}]},"mark":{"type":"text","fontSize":10,"align":"right","color":"#ccd4da"},"encoding":{"text":{"field":"t"},"x":{"field":"c","type":"ordinal","axis":null,"scale":{"type":"point","padding":0,"range":[1293,1293]}},"y":{"field":"r","type":"ordinal","axis":null,"scale":{"type":"point","padding":0,"range":[588,721]}}}},
{"data":{"values":[{"c":1,"r":1,"t":"–"}]},"mark":{"type":"text","fontSize":13,"align":"center","color":"#eef1f4"},"encoding":{"text":{"field":"t"},"x":{"field":"c","type":"ordinal","axis":null,"scale":{"type":"point","padding":0,"range":[1188,1188]}},"y":{"field":"r","type":"ordinal","axis":null,"scale":{"type":"point","padding":0,"range":[575,575]}}}}
]}
